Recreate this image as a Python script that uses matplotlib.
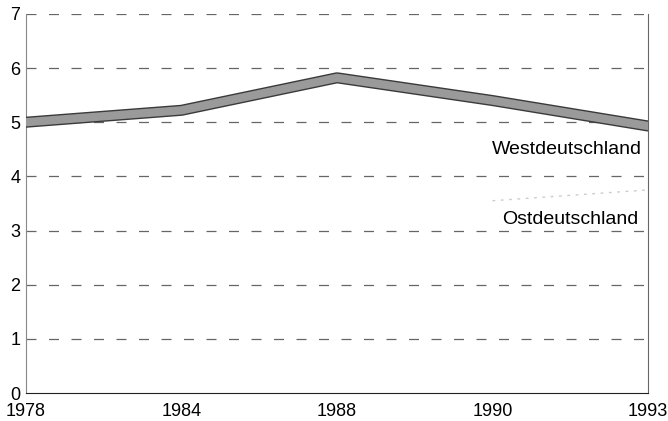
import matplotlib.pyplot as plt
import matplotlib.patheffects as pe

plt.rcParams['font.family'] = ['Liberation Sans', 'DejaVu Sans']

# data
years = ['1978', '1984', '1988', '1990', '1993']
west = [5.0, 5.22, 5.82, 5.4, 4.93]
ost_years = [3, 4]  # positions of 1990 and 1993
ost = [3.55, 3.75]

fig = plt.figure(figsize=(6.68, 4.21), dpi=100)
ax = fig.add_axes([0.039, 0.0665, 0.931, 0.9005])

x = list(range(len(years)))

# horizontal dashed grid
for v in range(1, 8):
    ax.axhline(v, color='#666666', lw=0.9, ls=(0, (8, 10)), zorder=1)

# faint east line
ax.plot(ost_years, ost, color='#cccccc', lw=1.0, ls=(0, (2, 4)), zorder=2)

# west line: dark outline with gray fill
ax.plot(x, west, color='#9a9a9a', lw=6, solid_joinstyle='round', solid_capstyle='round',
        path_effects=[pe.Stroke(linewidth=8, foreground='#3a3a3a'), pe.Normal()], zorder=3)

ax.text(3.48, 4.5, 'Westdeutschland', fontsize=14, ha='center', va='center')
ax.text(3.5, 3.2, 'Ostdeutschland', fontsize=14, ha='center', va='center')

ax.set_xlim(0, 4)
ax.set_ylim(0, 7)
ax.set_xticks(x)
ax.set_xticklabels(years)
ax.set_yticks(range(0, 8))

ax.spines['top'].set_visible(False)
ax.spines['left'].set_color('#888888')
ax.spines['right'].set_color('#666666')
ax.spines['right'].set_linewidth(0.8)
ax.spines['bottom'].set_color('#222222')
ax.tick_params(axis='both', length=0, labelsize=13)
ax.tick_params(axis='x', pad=7)
ax.tick_params(axis='y', pad=4)

fig.savefig('out.png', dpi=100)
